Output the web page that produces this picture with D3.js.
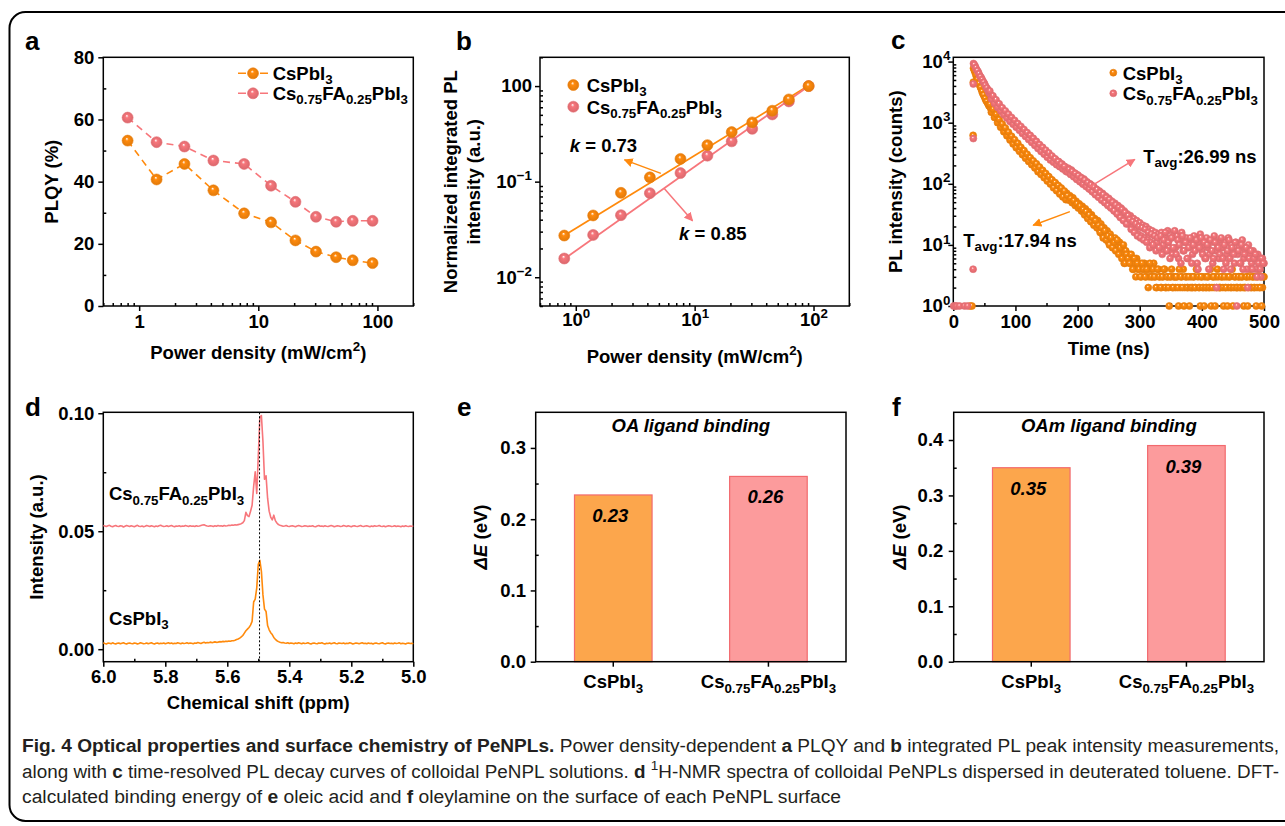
<!DOCTYPE html>
<html>
<head>
<meta charset="utf-8">
<script src="https://cdn.jsdelivr.net/npm/d3@7"></script>
<style>
  body { margin: 0; background: #fff; }
  svg { display: block; }
</style>
</head>
<body>
<svg id="fig" width="1285" height="826"></svg>
<script>
// ---------- data ----------
// a, b: power density sweep
var powerDensity = [0.8, 1.4, 2.4, 4.2, 7.6, 12.8, 20.5, 30.5, 45, 62, 91];
var plqyCs = [53.2, 40.7, 45.7, 37.2, 29.8, 26.9, 21.1, 17.5, 15.7, 14.7, 13.8];
var plqyFa = [60.6, 52.7, 51.3, 46.8, 45.7, 38.7, 33.5, 28.7, 27.1, 27.4, 27.4];
var plCs = [0.0273, 0.0443, 0.0764, 0.111, 0.173, 0.241, 0.330, 0.417, 0.552, 0.725, 1];
var plFa = [0.0157, 0.0277, 0.0446, 0.0758, 0.123, 0.187, 0.264, 0.357, 0.505, 0.691, 1];
var fitX = [0.78, 92];
var fitCs = [0.0268, 1.02];
var fitFa = [0.0152, 1.01];

// c: TRPL decay, counts on a 2.5 ns grid starting at 32.5 ns (A) and 33.75 ns (B)
var decayT0 = 32.5, decayStep = 2.5, decayOffsetB = 1.25;
var decayCs = [
  7800, 6700, 5600, 4750, 4100, 3550, 3000, 2680, 2330, 2120,
  1880, 1730, 1550, 1430, 1280, 1180, 1050, 980, 880, 830,
  750, 710, 640, 610, 550, 530, 480, 460, 420, 400,
  365, 350, 320, 310, 280, 275, 250, 245, 220, 215,
  198, 190, 175, 170, 156, 152, 138, 136, 124, 120,
  109, 108, 97, 99, 88, 89, 80, 77, 72, 68,
  70, 60, 64, 55, 59, 49, 52, 44, 47, 40,
  43, 34, 39, 30, 35, 27, 31, 24, 27, 22,
  25, 18, 22, 15, 19, 14, 17, 11, 15, 12,
  9, 13, 10, 8, 11, 7, 9, 5, 8, 6,
  7, 5, 6, 4, 5, 6, 4, 5, 3, 4,
  5, 3, 4, 3, 4, 3, 5, 3, 2, 4,
  3, 2, 3, 4, 2, 3, 1, 3, 2, 3,
  2, 3, 1, 2, 3, 4, 2, 3, 2, 1,
  3, 2, 3, 2, 4, 2, 1, 3, 2, 3,
  2, 3, 2, 1, 3, 2, 3, 4, 2, 2,
  3, 1, 2, 3, 2, 3, 2, 1, 3, 2,
  2, 3, 2, 3, 1, 2, 3, 2, 4, 2,
  3, 2, 1, 3, 2, 3, 2, 3
];
var decayCsB = [
  7200, 6100, 5150, 4400, 3800, 3250, 2850, 2500, 2230, 2000,
  2000, 1480, 1660, 1220, 1370, 1000, 1130, 840, 950, 710,
  820, 610, 700, 520, 600, 450, 525, 390, 460, 340,
  395, 300, 350, 262, 305, 232, 268, 205, 237, 182,
  212, 158, 188, 142, 166, 126, 148, 111, 131, 99,
  116, 86, 105, 77, 94, 68, 85, 61, 76, 55,
  64, 54, 58, 49, 53, 44, 47, 40, 43, 36,
  38, 31, 35, 27, 31, 24, 28, 21, 25, 19,
  21, 16, 19, 13, 17, 12, 14, 10, 13, 9,
  11, 8, 12, 7, 9, 6, 10, 5, 7, 6,
  5, 7, 4, 6, 3, 5, 4, 3, 5, 4,
  3, 4, 2, 5, 3, 4, 3, 2, 4, 3,
  2, 3, 4, 2, 3, 2, 3, 4, 2, 3,
  3, 2, 4, 3, 2, 1, 3, 2, 3, 2,
  2, 3, 2, 4, 3, 2, 3, 2, 1, 2,
  3, 2, 4, 2, 3, 1, 2, 3, 2, 3,
  2, 3, 2, 1, 3, 2, 4, 2, 3, 2,
  3, 2, 3, 2, 2, 3, 1, 3, 2, 3,
  2, 3, 2, 4, 2, 1, 3
];
var decayFa = [
  9300, 8500, 7400, 6800, 5900, 5450, 4800, 4400, 3850, 3550,
  3100, 2880, 2580, 2450, 2200, 2100, 1900, 1820, 1650, 1590,
  1440, 1400, 1270, 1240, 1130, 1100, 1000, 980, 890, 870,
  790, 775, 705, 690, 625, 620, 555, 550, 495, 490,
  450, 445, 405, 400, 365, 360, 325, 325, 295, 290,
  270, 265, 240, 245, 220, 230, 195, 210, 180, 190,
  165, 180, 150, 168, 140, 150, 125, 140, 115, 128,
  104, 120, 96, 108, 86, 100, 78, 92, 70, 82,
  64, 76, 58, 70, 52, 63, 47, 58, 42, 52,
  38, 48, 34, 44, 30, 40, 27, 36, 24, 32,
  22, 30, 19, 27, 17, 25, 15, 23, 14, 21,
  13, 20, 12, 18, 11, 17, 10, 16, 11, 15,
  9, 16, 10, 14, 8, 17, 9, 13, 7, 15,
  9, 14, 6, 12, 16, 8, 11, 13, 6, 10,
  12, 7, 14, 9, 5, 11, 15, 8, 10, 6,
  13, 9, 7, 11, 5, 14, 8, 10, 6, 12,
  9, 4, 11, 7, 13, 6, 10, 8, 5, 11,
  7, 9, 5, 12, 6, 8, 4, 10, 7, 5,
  8, 6, 4, 7, 5, 3, 6, 5
];
var decayFaB = [
  8900, 7900, 7100, 6300, 5650, 5100, 4600, 4100, 3700, 3300,
  3300, 2450, 2750, 2070, 2370, 1780, 2040, 1550, 1760, 1350,
  1560, 1190, 1380, 1050, 1220, 940, 1090, 840, 970, 750,
  870, 665, 775, 595, 690, 530, 620, 475, 555, 425,
  495, 378, 440, 338, 395, 305, 355, 272, 320, 245,
  285, 225, 258, 205, 232, 190, 210, 175, 192, 160,
  156, 172, 142, 160, 130, 148, 118, 136, 108, 124,
  98, 115, 90, 104, 82, 96, 74, 88, 66, 80,
  60, 72, 54, 66, 49, 60, 44, 55, 40, 50,
  36, 45, 32, 41, 28, 38, 25, 34, 22, 30,
  26, 18, 24, 16, 22, 14, 20, 13, 19, 12,
  18, 11, 16, 9, 15, 10, 14, 8, 13, 9,
  14, 7, 12, 16, 8, 11, 6, 13, 9, 17,
  7, 12, 10, 5, 14, 8, 11, 6, 9, 13,
  5, 10, 8, 12, 4, 9, 13, 7, 11, 6,
  10, 4, 12, 8, 6, 11, 2, 9, 7, 13,
  6, 10, 5, 8, 12, 4, 9, 7, 11, 1,
  8, 5, 10, 4, 7, 9, 2, 6, 8, 4,
  6, 7, 3, 5, 4, 6, 5
];
// points before and on the rising edge
var riseT = [0.5, 3, 5.5, 10, 14, 18, 23, 27, 30, 31.9, 32.2, 32.2];
var riseCs = [0, 0, 0, 0, 0, 0, 0, 1, 1, 620, 4600, 0];
var riseFa = [1, 1, 1, 1, 0, 1, 1, 0, 0, 4, 550, 4300];

// d: 1H-NMR, 6.0 -> 5.0 ppm in 0.005 ppm steps
var nmrStart = 6.0, nmrStep = 0.005, nmrPeak = 5.496;
var nmrFa = [
  0.0524,0.0522,0.0520,0.0523,0.0525,0.0521,0.0519,0.0522,0.0524,0.0521,
  0.0520,0.0523,0.0522,0.0518,0.0521,0.0524,0.0522,0.0520,0.0523,0.0521,
  0.0519,0.0522,0.0525,0.0521,0.0520,0.0522,0.0519,0.0521,0.0524,0.0522,
  0.0520,0.0523,0.0521,0.0519,0.0522,0.0520,0.0523,0.0525,0.0522,0.0520,
  0.0521,0.0523,0.0520,0.0522,0.0524,0.0521,0.0519,0.0522,0.0521,0.0523,
  0.0520,0.0522,0.0521,0.0524,0.0522,0.0520,0.0523,0.0521,0.0522,0.0520,
  0.0523,0.0521,0.0522,0.0524,0.0526,0.0527,0.0524,0.0522,0.0521,0.0523,
  0.0522,0.0520,0.0523,0.0521,0.0524,0.0522,0.0523,0.0521,0.0524,0.0522,
  0.0523,0.0525,0.0524,0.0526,0.0525,0.0527,0.0526,0.0528,
  0.0530,0.0532,0.0536,0.0545,0.0580,0.0566,0.0562,0.0585,0.0610,0.0690,
  0.0752,0.0660,0.0820,0.0985,0.0990,0.0880,0.0720,0.0735,0.0640,0.0585,
  0.0560,0.0548,0.0568,0.0545,0.0535,0.0528,0.0525,
  0.0523,0.0521,0.0522,0.0524,0.0521,0.0520,0.0522,0.0523,0.0521,0.0519,
  0.0522,0.0524,0.0522,0.0520,0.0521,0.0523,0.0522,0.0520,0.0522,0.0521,
  0.0523,0.0520,0.0519,0.0522,0.0524,0.0521,0.0522,0.0520,0.0523,0.0521,
  0.0520,0.0522,0.0524,0.0522,0.0519,0.0521,0.0523,0.0522,0.0520,0.0521,
  0.0524,0.0522,0.0520,0.0523,0.0521,0.0519,0.0522,0.0523,0.0521,0.0520,
  0.0522,0.0524,0.0521,0.0520,0.0522,0.0523,0.0521,0.0519,0.0522,0.0520,
  0.0523,0.0521,0.0522,0.0524,0.0521,0.0520,0.0522,0.0519,0.0521,0.0523,
  0.0522,0.0520,0.0521,0.0523,0.0520,0.0522,0.0521,0.0519,0.0522,0.0520,
  0.0523,0.0521,0.0520,0.0522,0.0521,0.0522
];
var nmrCs = [
  0.0027,0.0024,0.0022,0.0026,0.0025,0.0023,0.0027,0.0024,0.0022,0.0025,
  0.0026,0.0023,0.0025,0.0027,0.0024,0.0022,0.0025,0.0026,0.0024,0.0023,
  0.0026,0.0025,0.0022,0.0024,0.0027,0.0025,0.0023,0.0024,0.0026,0.0023,
  0.0025,0.0027,0.0024,0.0022,0.0025,0.0026,0.0023,0.0025,0.0024,0.0026,
  0.0023,0.0025,0.0027,0.0024,0.0026,0.0023,0.0025,0.0024,0.0027,0.0025,
  0.0023,0.0026,0.0024,0.0025,0.0027,0.0024,0.0026,0.0025,0.0023,0.0026,
  0.0025,0.0028,0.0026,0.0024,0.0027,0.0029,0.0026,0.0028,0.0027,0.0030,
  0.0028,0.0029,0.0031,0.0029,0.0030,0.0032,0.0031,0.0033,0.0032,0.0034,
  0.0033,0.0035,0.0034,0.0036,
  0.0036,0.0038,0.0041,0.0043,0.0047,0.0052,0.0058,0.0068,0.0078,0.0085,
  0.0092,0.0102,0.0118,0.0200,0.0212,0.0260,0.0360,0.0377,0.0330,0.0230,
  0.0170,0.0160,0.0100,0.0082,0.0070,0.0062,0.0050,0.0042,0.0036,0.0032,
  0.0029,
  0.0027,0.0028,0.0026,0.0025,0.0027,0.0024,0.0026,0.0025,0.0023,0.0026,
  0.0024,0.0027,0.0025,0.0023,0.0026,0.0024,0.0025,0.0027,0.0024,0.0022,
  0.0025,0.0026,0.0024,0.0023,0.0026,0.0025,0.0027,0.0024,0.0022,0.0025,
  0.0024,0.0026,0.0023,0.0025,0.0027,0.0024,0.0023,0.0026,0.0025,0.0024,
  0.0026,0.0023,0.0025,0.0024,0.0027,0.0025,0.0022,0.0024,0.0026,0.0025,
  0.0023,0.0025,0.0027,0.0024,0.0025,0.0023,0.0026,0.0024,0.0025,0.0022,
  0.0025,0.0026,0.0024,0.0023,0.0025,0.0027,0.0024,0.0022,0.0025,0.0026,
  0.0024,0.0025,0.0023,0.0026,0.0024,0.0025,0.0027,0.0023,0.0025,0.0024,
  0.0022,0.0025,0.0026,0.0024,0.0025,0.0023
];

// e, f: DFT binding energies
var bindCats = ['CsPbI3', 'Cs0.75FA0.25PbI3'];
var oaEnergy = [0.234, 0.26];
var oaText = ['0.23', '0.26'];
var oamEnergy = [0.35, 0.39];
var oamText = ['0.35', '0.39'];

// annotations (data coordinates)
var kArrows = [{from: [5.2, 0.122], to: [2.57, 0.169], c: 'cs'}, {from: [5.55, 0.085], to: [9.6, 0.039], c: 'fa'}];
var kTexts = [{at: [0.89, 0.206], s: '0.73'}, {at: [7.4, 0.0244], s: '0.85'}];
var tauArrows = [{from: [219.8, 89], to: [292, 251], c: 'fa'}, {from: [187.6, 35], to: [128.6, 21], c: 'cs'}];
var tauTexts = [{at: [305.5, 219], s: ':26.99 ns'}, {at: [16, 9.3], s: ':17.94 ns'}];

// ---------- style ----------
var FONT = "'Liberation Sans', Arial, Helvetica, sans-serif";
var CAPFONT = "'Liberation Sans', Arial, sans-serif";
var FS = 18.5;
var ORANGE = '#ff8a0c';
var PINK = '#f7767b';
var colors = {cs: ORANGE, fa: PINK};
var csLabel = [['CsPbI'], ['3', 'sub']];
var faLabel = [['Cs'], ['0.75', 'sub'], ['FA'], ['0.25', 'sub'], ['PbI'], ['3', 'sub']];

var svg = d3.select('#fig')
  .attr('font-family', FONT)
  .attr('font-weight', 'bold');

svg.append('rect').attr('width', 1285).attr('height', 826).attr('fill', '#fff');
svg.append('rect')
  .attr('x', 9.5).attr('y', 12).attr('width', 1320).attr('height', 809)
  .attr('rx', 16).attr('fill', 'none').attr('stroke', '#000').attr('stroke-width', 2);

var defs = svg.append('defs');
function addGrad(id, color) {
  var g = defs.append('radialGradient').attr('id', id)
    .attr('cx', '50%').attr('cy', '50%').attr('r', '50%')
    .attr('fx', '42%').attr('fy', '32%');
  g.append('stop').attr('offset', '0%').attr('stop-color', '#fff');
  g.append('stop').attr('offset', '30%').attr('stop-color', color);
  g.append('stop').attr('offset', '100%').attr('stop-color', d3.color(color).darker(0.35));
}
addGrad('gcs', ORANGE);
addGrad('gfa', PINK);
['cs', 'fa'].forEach(function (k) {
  defs.append('marker').attr('id', 'a' + k).attr('viewBox', '0 0 10 10')
    .attr('refX', 9).attr('refY', 5).attr('markerWidth', 9).attr('markerHeight', 9)
    .attr('markerUnits', 'userSpaceOnUse').attr('orient', 'auto')
    .append('path').attr('d', 'M0,0L10,5L0,10z').attr('fill', colors[k]);
});

// text with sub/sup/italic pieces
function rich(text, parts, size) {
  var shift = 0;
  parts.forEach(function (p) {
    var t = text.append('tspan').text(p[0]);
    var target = 0;
    if (p[1] === 'sub') { target = size * 0.24; t.attr('font-size', size * 0.72); }
    if (p[1] === 'sup') { target = -size * 0.42; t.attr('font-size', size * 0.72); }
    if (p[1] === 'i') t.attr('font-style', 'italic');
    if (p[1] === 'b') t.attr('font-weight', 'bold');
    if (target !== shift) t.attr('dy', target - shift);
    shift = target;
  });
  return text;
}

function label(x, y, parts, size, anchor) {
  var t = svg.append('text').attr('x', x).attr('y', y)
    .attr('font-size', size).attr('text-anchor', anchor || 'start');
  return rich(t, parts, size);
}

function styleAxis(g) {
  g.attr('font-family', FONT).attr('font-size', FS).attr('font-weight', 'bold');
  g.select('.domain').remove();
  g.selectAll('.tick line').attr('stroke', '#000').attr('stroke-width', 1.5);
  g.selectAll('.tick text').attr('fill', '#000');
}

function drawAxes(c) {
  var xr = c.x.range(), yr = c.y.range();
  var gx = svg.append('g').attr('transform', 'translate(0,' + yr[0] + ')')
    .call(d3.axisBottom(c.x).tickValues(c.xMajor).tickSize(5).tickPadding(c.xPad)
      .tickFormat(c.xFmt || null));
  styleAxis(gx);
  if (c.xRich) gx.selectAll('.tick text').each(function (d) {
    var t = d3.select(this).text(null); rich(t, c.xRich(d), FS);
  });
  if (c.xMinor) styleAxis(svg.append('g').attr('transform', 'translate(0,' + yr[0] + ')')
    .call(d3.axisBottom(c.x).tickValues(c.xMinor).tickSize(-3).tickFormat('')));
  var gy = svg.append('g').attr('transform', 'translate(' + xr[0] + ',0)')
    .call(d3.axisLeft(c.y).tickValues(c.yMajor).tickSize(5).tickPadding(c.yPad)
      .tickFormat(c.yFmt || null));
  styleAxis(gy);
  if (c.yRich) gy.selectAll('.tick text').each(function (d) {
    var t = d3.select(this).text(null); rich(t, c.yRich(d), FS);
  });
  if (c.yMinor) styleAxis(svg.append('g').attr('transform', 'translate(' + xr[0] + ',0)')
    .call(d3.axisLeft(c.y).tickValues(c.yMinor).tickSize(-3).tickFormat('')));
  svg.append('rect')
    .attr('x', xr[0]).attr('y', yr[1])
    .attr('width', xr[1] - xr[0]).attr('height', yr[0] - yr[1])
    .attr('fill', 'none').attr('stroke', '#000').attr('stroke-width', 1.5);
}

function yTitle(x, y, parts) {
  var t = svg.append('text').attr('font-size', FS).attr('text-anchor', 'middle')
    .attr('transform', 'translate(' + x + ',' + y + ') rotate(-90)');
  rich(t, parts, FS);
}

function logMinor(scale, majors) {
  return scale.ticks().filter(function (v) {
    return majors.indexOf(v) < 0;
  });
}

function ball(g, data, xs, ys, r, key) {
  g.selectAll(null).data(data).enter().append('circle')
    .attr('cx', function (d) { return xs(d[0]); })
    .attr('cy', function (d) { return ys(d[1]); })
    .attr('r', r)
    .attr('fill', 'url(#g' + key + ')')
    .attr('stroke', d3.color(colors[key]).darker(0.2))
    .attr('stroke-width', 0.6);
}

function arrow(xs, ys, a) {
  svg.append('line')
    .attr('x1', xs(a.from[0])).attr('y1', ys(a.from[1]))
    .attr('x2', xs(a.to[0])).attr('y2', ys(a.to[1]))
    .attr('stroke', colors[a.c]).attr('stroke-width', 1.5)
    .attr('marker-end', 'url(#a' + a.c + ')');
}

var ident = function (v) { return v; };

// panel letters
[['a', 25, 50], ['b', 456, 50], ['c', 891, 49], ['d', 25, 416], ['e', 457, 416], ['f', 892, 416]]
  .forEach(function (l) {
    svg.append('text').attr('x', l[1]).attr('y', l[2]).attr('font-size', 26).text(l[0]);
  });

// ---------- a ----------
var ax = d3.scaleLog().domain([0.5, 200]).range([103.3, 413.3]);
var ay = d3.scaleLinear().domain([0, 80]).range([306, 57.3]);
drawAxes({
  x: ax, y: ay, xMajor: [1, 10, 100], xMinor: logMinor(ax, [1, 10, 100]), xPad: 4, xFmt: d3.format('d'),
  yMajor: [0, 20, 40, 60, 80], yMinor: [10, 30, 50, 70], yPad: 4
});
var ga = svg.append('g');
[['cs', plqyCs], ['fa', plqyFa]].forEach(function (s) {
  var pts = powerDensity.map(function (p, i) { return [p, s[1][i]]; });
  ga.append('path').attr('d', d3.line().x(function (d) { return ax(d[0]); }).y(function (d) { return ay(d[1]); })(pts))
    .attr('fill', 'none').attr('stroke', colors[s[0]]).attr('stroke-width', 1.6)
    .attr('stroke-dasharray', '7,5');
});
[['cs', plqyCs], ['fa', plqyFa]].forEach(function (s) {
  ball(ga, powerDensity.map(function (p, i) { return [p, s[1][i]]; }), ax, ay, 5.5, s[0]);
});
[['cs', csLabel, 73.3], ['fa', faLabel, 93.3]].forEach(function (l) {
  svg.append('line').attr('x1', 238).attr('x2', 268).attr('y1', l[2]).attr('y2', l[2])
    .attr('stroke', colors[l[0]]).attr('stroke-width', 1.6).attr('stroke-dasharray', '8,14,8');
  ball(svg, [[253, l[2]]], ident, ident, 5.5, l[0]);
  label(272.7, l[2] + 6.7, l[1], FS);
});
yTitle(58, 181.7, [['PLQY (%)']]);
label(258.3, 358.5, [['Power density (mW/cm'], ['2', 'sup'], [')']], FS, 'middle');

// ---------- b ----------
var bx = d3.scaleLog().domain([0.5, 200]).range([540, 849.3]);
var by = d3.scaleLog().domain([0.005, 2]).range([306, 57.3]);
drawAxes({
  x: bx, y: by, xMajor: [1, 10, 100], xMinor: logMinor(bx, [1, 10, 100]), xPad: 2, xFmt: function () { return ''; },
  xRich: function (d) { return [['10'], [String(Math.round(Math.log10(d))), 'sup']]; },
  yMajor: [0.01, 0.1, 1], yMinor: logMinor(by, [0.01, 0.1, 1]), yPad: 3, yFmt: function () { return ''; },
  yRich: function (d) {
    var e = Math.round(Math.log10(d));
    return e === 0 ? [['100']] : [['10'], ['\u2212' + Math.abs(e), 'sup']];
  }
});
var gb = svg.append('g');
[['cs', fitCs], ['fa', fitFa]].forEach(function (s) {
  gb.append('line')
    .attr('x1', bx(fitX[0])).attr('y1', by(s[1][0]))
    .attr('x2', bx(fitX[1])).attr('y2', by(s[1][1]))
    .attr('stroke', colors[s[0]]).attr('stroke-width', 1.8);
});
[['fa', plFa], ['cs', plCs]].forEach(function (s) {
  ball(gb, powerDensity.map(function (p, i) { return [p, s[1][i]]; }), bx, by, 5.5, s[0]);
});
kArrows.forEach(function (a) { arrow(bx, by, a); });
kTexts.forEach(function (k) {
  label(bx(k.at[0]), by(k.at[1]), [['k', 'i'], [' = ' + k.s]], FS);
});
[['cs', csLabel, 85], ['fa', faLabel, 106.7]].forEach(function (l) {
  ball(svg, [[573.3, l[2]]], ident, ident, 5.5, l[0]);
  label(586.7, l[2] + 7, l[1], FS);
});
yTitle(457, 181.7, [['Normalized integrated PL']]);
yTitle(479.5, 181.7, [['intensity (a.u.)']]);
label(694.7, 363, [['Power density (mW/cm'], ['2', 'sup'], [')']], FS, 'middle');

// ---------- c ----------
var cx = d3.scaleLinear().domain([0, 500]).range([953.3, 1264]);
var cy = d3.scaleLog().domain([1, 11750]).range([306, 57.3]);
drawAxes({
  x: cx, y: cy, xMajor: [0, 100, 200, 300, 400, 500], xMinor: [50, 150, 250, 350, 450], xPad: 4,
  yMajor: [1, 10, 100, 1000, 10000], yMinor: logMinor(cy, [1, 10, 100, 1000, 10000]), yPad: -2,
  yFmt: function () { return ''; },
  yRich: function (d) { return [['10'], [String(Math.round(Math.log10(d))), 'sup']]; }
});
var gc = svg.append('g');
function decaySeries(vals, t0) {
  return vals.map(function (v, i) { return [t0 + i * decayStep, v]; })
    .filter(function (d) { return d[1] > 0; });
}
function riseSeries(vals) {
  return riseT.map(function (t, i) { return [t, vals[i]]; }).filter(function (d) { return d[1] > 0; });
}
ball(gc, riseSeries(riseCs).concat(decaySeries(decayCs, decayT0), decaySeries(decayCsB, decayT0 + decayOffsetB)),
  cx, cy, 3.5, 'cs');
ball(gc, riseSeries(riseFa).concat(decaySeries(decayFa, decayT0), decaySeries(decayFaB, decayT0 + decayOffsetB)),
  cx, cy, 3.5, 'fa');
tauArrows.forEach(function (a) { arrow(cx, cy, a); });
tauTexts.forEach(function (k) {
  label(cx(k.at[0]), cy(k.at[1]), [['T'], ['avg', 'sub'], [k.s]], FS);
});
[['cs', csLabel, 72.7], ['fa', faLabel, 93.3]].forEach(function (l) {
  ball(svg, [[1113.3, l[2]]], ident, ident, 3.5, l[0]);
  label(1122.7, l[2] + 7, l[1], FS);
});
yTitle(901.5, 181.7, [['PL intensity (counts)']]);
label(1108.7, 355, [['Time (ns)']], FS, 'middle');

// ---------- d ----------
var dx = d3.scaleLinear().domain([6.0, 5.0]).range([103.3, 413.3]);
var dy = d3.scaleLinear().domain([-0.0053, 0.1004]).range([661.7, 412.3]);
drawAxes({
  x: dx, y: dy, xMajor: [6.0, 5.8, 5.6, 5.4, 5.2, 5.0], xMinor: [5.9, 5.7, 5.5, 5.3, 5.1], xPad: 3.5,
  xFmt: d3.format('.1f'),
  yMajor: [0, 0.05, 0.10], yMinor: [0.025, 0.075], yPad: 4, yFmt: d3.format('.2f')
});
var nmrLine = d3.line()
  .x(function (d, i) { return dx(nmrStart - i * nmrStep); })
  .y(function (d) { return dy(d); });
svg.append('path').attr('d', nmrLine(nmrFa)).attr('fill', 'none')
  .attr('stroke', PINK).attr('stroke-width', 1.6).attr('stroke-linejoin', 'round');
svg.append('path').attr('d', nmrLine(nmrCs)).attr('fill', 'none')
  .attr('stroke', ORANGE).attr('stroke-width', 1.6).attr('stroke-linejoin', 'round');
svg.append('line')
  .attr('x1', dx(nmrPeak)).attr('x2', dx(nmrPeak))
  .attr('y1', dy.range()[1]).attr('y2', dy.range()[0])
  .attr('stroke', '#000').attr('stroke-width', 1).attr('stroke-dasharray', '2,2');
label(dx(5.982), dy(0.0631), faLabel, FS);
label(dx(5.982), dy(0.0103), csLabel, FS);
yTitle(42.5, 537, [['Intensity (a.u.)']]);
label(258.3, 709, [['Chemical shift (ppm)']], FS, 'middle');

// ---------- e, f ----------
function barPanel(x0, x1, yMax, yMajor, yMinor, yPad, vals, texts, title, titleX) {
  var x = d3.scaleBand().domain(bindCats).range([x0, x1]).paddingInner(0.5).paddingOuter(0.25);
  var y = d3.scaleLinear().domain([0, yMax]).range([661.7, 412.3]);
  var fills = ['#fca64c', '#fc9b9c'];
  svg.selectAll(null).data(bindCats).enter().append('rect')
    .attr('x', function (d) { return x(d); })
    .attr('y', function (d, i) { return y(vals[i]); })
    .attr('width', x.bandwidth())
    .attr('height', function (d, i) { return y(0) - y(vals[i]); })
    .attr('fill', function (d, i) { return fills[i]; })
    .attr('stroke', '#f26a6e').attr('stroke-width', 1.2);
  svg.selectAll(null).data(bindCats).enter().append('text')
    .attr('x', function (d) { return x(d) + x.bandwidth() / 2 - 3; })
    .attr('y', function (d, i) { return y(vals[i]) + 27; })
    .attr('text-anchor', 'middle').attr('font-size', FS).attr('font-style', 'italic')
    .text(function (d, i) { return texts[i]; });
  drawAxes({
    x: x, y: y, xMajor: bindCats, xPad: 8.5, xFmt: function () { return ''; },
    xRich: function (d) { return d === bindCats[0] ? csLabel : faLabel; },
    yMajor: yMajor, yMinor: yMinor, yPad: yPad, yFmt: d3.format('.1f')
  });
  svg.append('text').attr('x', (x0 + x1) / 2).attr('y', 431.7)
    .attr('text-anchor', 'middle').attr('font-size', FS).attr('font-style', 'italic')
    .text(title);
  yTitle(titleX, 537, [['\u0394E', 'i'], [' (eV)']]);
}
barPanel(535.7, 846, 0.35, [0, 0.1, 0.2, 0.3], [0.05, 0.15, 0.25], 4.7, oaEnergy, oaText, 'OA ligand binding', 486.5);
barPanel(953.7, 1264, 0.45, [0, 0.1, 0.2, 0.3, 0.4], [0.05, 0.15, 0.25, 0.35], 5.4, oamEnergy, oamText, 'OAm ligand binding', 906);

// ---------- caption ----------
var capLines = [
  {y: 752, w: 1257, parts: [['Fig. 4 Optical properties and surface chemistry of PeNPLs.', 'b'], [' Power density-dependent '], ['a', 'b'], [' PLQY and '], ['b', 'b'], [' integrated PL peak intensity measurements,']]},
  {y: 778, w: 1257, parts: [['along with '], ['c', 'b'], [' time-resolved PL decay curves of colloidal PeNPL solutions. '], ['d', 'b'], [' '], ['1', 'sup'], ['H-NMR spectra of colloidal PeNPLs dispersed in deuterated toluene. DFT-']]},
  {y: 803, w: 819, parts: [['calculated binding energy of '], ['e', 'b'], [' oleic acid and '], ['f', 'b'], [' oleylamine on the surface of each PeNPL surface']]}
];
capLines.forEach(function (l) {
  var t = svg.append('text').attr('x', 22).attr('y', l.y)
    .attr('font-family', CAPFONT).attr('font-weight', 'normal').attr('font-size', 18)
    .attr('fill', '#231f20')
    .attr('textLength', l.w).attr('lengthAdjust', 'spacingAndGlyphs');
  rich(t, l.parts, 18);
});
</script>
</body>
</html>
